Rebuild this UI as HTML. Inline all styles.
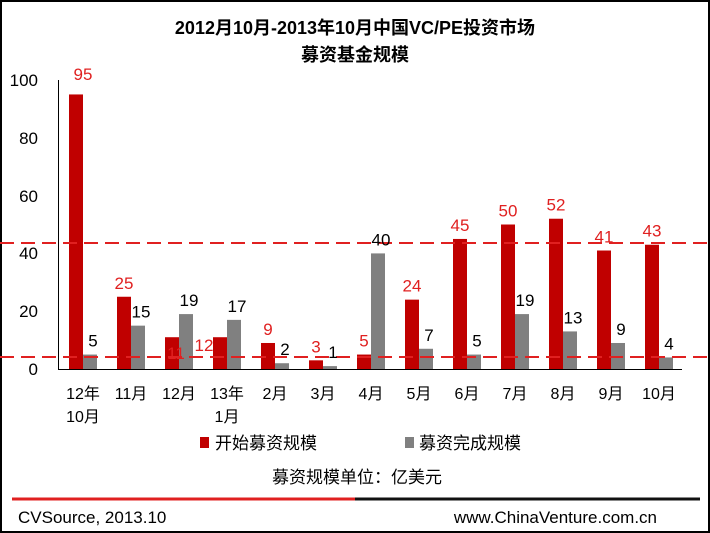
<!DOCTYPE html><html><head><meta charset="utf-8"><style>
body{margin:0;background:#fff}
svg{display:block;font-family:"Liberation Sans","Noto Sans CJK SC",sans-serif}
</style></head><body>
<svg width="710" height="533" viewBox="0 0 710 533">
<rect x="1" y="1" width="708" height="531" fill="#fff" stroke="#000" stroke-width="2"/>
<text x="355" y="34" text-anchor="middle" font-size="18" font-weight="bold">2012月10月-2013年10月中国VC/PE投资市场</text>
<text x="355" y="61" text-anchor="middle" font-size="18" font-weight="bold">募资基金规模</text>
<g font-size="17" text-anchor="end">
<text x="38" y="86">100</text><text x="38" y="144">80</text><text x="38" y="202">60</text><text x="38" y="259">40</text><text x="38" y="317">20</text><text x="38" y="375">0</text>
</g>
<line x1="58.5" y1="80" x2="58.5" y2="369" stroke="#000"/>
<line x1="58" y1="369.5" x2="682" y2="369.5" stroke="#000"/>
<g id="bars"></g>
<line x1="0" y1="243" x2="710" y2="243" stroke="#e02020" stroke-width="2" stroke-dasharray="14,7"/>
<line x1="0" y1="357" x2="710" y2="357" stroke="#e02020" stroke-width="2" stroke-dasharray="14,7"/>
<g id="labels" font-size="17"></g>
<g font-size="16" text-anchor="middle" id="xl"></g>
<rect x="200" y="437" width="9" height="11" fill="#c00000"/>
<text x="215" y="449" font-size="17">开始募资规模</text>
<rect x="405" y="437" width="9" height="11" fill="#808080"/>
<text x="419" y="449" font-size="17">募资完成规模</text>
<text x="357" y="483" text-anchor="middle" font-size="17">募资规模单位：亿美元</text>
<line x1="12" y1="499" x2="355" y2="499" stroke="#e02020" stroke-width="3"/>
<line x1="355" y1="499" x2="700" y2="499" stroke="#111" stroke-width="3"/>
<text x="18" y="523" font-size="17">CVSource, 2013.10</text>
<text x="657" y="523" font-size="17" text-anchor="end">www.ChinaVenture.com.cn</text>
</svg>
<script>
var red=[95,25,11,11,9,3,5,24,45,50,52,41,43],gr=[5,15,19,17,2,1,40,7,5,19,13,9,4];
var rl=[95,25,11,12,9,3,5,24,45,50,52,41,43];
var xl=[["12年","10月"],["11月"],["12月"],["13年","1月"],["2月"],["3月"],["4月"],["5月"],["6月"],["7月"],["8月"],["9月"],["10月"]];
var ns="http://www.w3.org/2000/svg",b=document.getElementById("bars"),l=document.getElementById("labels"),x=document.getElementById("xl");
function el(p,t,a,txt){var e=document.createElementNS(ns,t);for(var k in a)e.setAttribute(k,a[k]);if(txt!=null)e.textContent=txt;p.appendChild(e);}
var k=2.89;
for(var i=0;i<13;i++){var c=83+i*48;
var rh=red[i]*k,gh=gr[i]*k;
el(b,"rect",{x:c-14,y:369-rh,width:14,height:rh,fill:"#c00000"});
el(b,"rect",{x:c,y:369-gh,width:14,height:gh,fill:"#808080"});
var ry=369-rh-8;if(i==0)ry=80;if(i==2)ry=359;if(i==3){ry=351;}
var rx=c-7;if(i==0)rx=c;if(i==2)rx=c-3;if(i==3)rx=c-23;
el(l,"text",{x:rx,y:ry,"text-anchor":"middle",fill:"#e02020"},rl[i]);
el(l,"text",{x:c+10,y:369-gh-8,"text-anchor":"middle",fill:"#000"},gr[i]);
el(x,"text",{x:c,y:399},xl[i][0]);if(xl[i][1])el(x,"text",{x:c,y:422},xl[i][1]);}
</script>
</body></html>
